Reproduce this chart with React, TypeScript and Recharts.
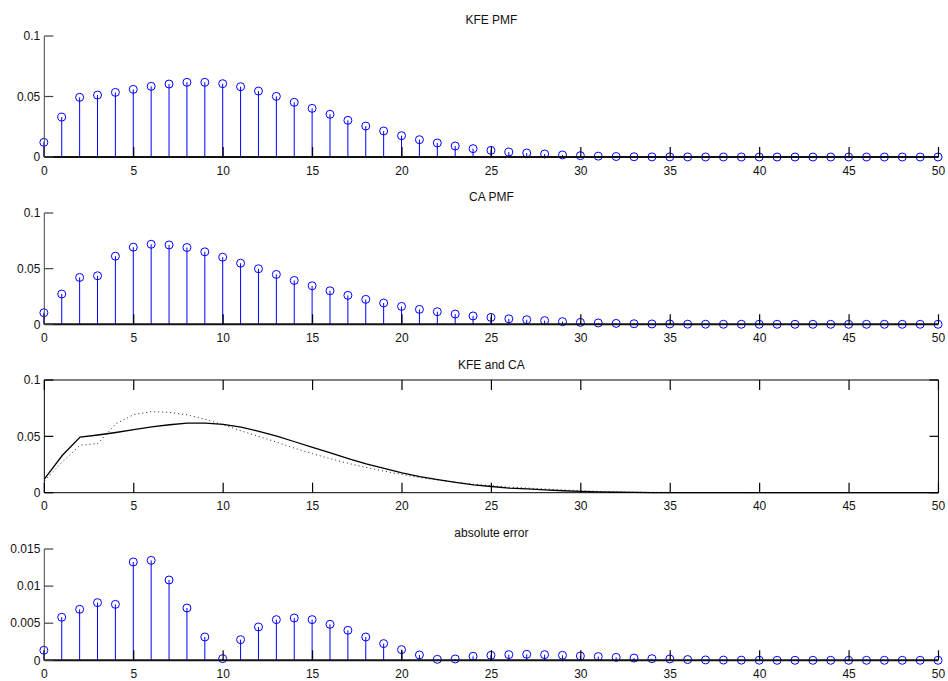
import React from 'react';
import { ComposedChart, Bar, Line, XAxis, YAxis } from 'recharts';

const xs = [0,1,2,3,4,5,6,7,8,9,10,11,12,13,14,15,16,17,18,19,20,21,22,23,24,25,26,27,28,29,30,31,32,33,34,35,36,37,38,39,40,41,42,43,44,45,46,47,48,49,50];

const kfe = [0.0121,0.0330,0.0493,0.0512,0.0534,0.0559,0.0584,0.0603,0.0617,0.0617,0.0606,0.0581,0.0545,0.0501,0.0452,0.0402,0.0353,0.0303,0.0256,0.0215,0.0176,0.0143,0.0116,0.0091,0.0069,0.0055,0.0041,0.0033,0.0025,0.0017,0.0011,0.0007,0.0004,0.0002,0.0001,0.0001,0.00005,0.00003,0.00002,0.00001,0,0,0,0,0,0,0,0,0,0,0];

const ca = [0.0104,0.0272,0.0421,0.0436,0.0612,0.0693,0.0719,0.0713,0.0690,0.0651,0.0603,0.0549,0.0499,0.0448,0.0394,0.0346,0.0301,0.0260,0.0224,0.0191,0.0161,0.0134,0.0113,0.0092,0.0075,0.0062,0.0049,0.0041,0.0033,0.0024,0.0017,0.0012,0.0008,0.0005,0.0003,0.0003,0.0001,0.00008,0.00005,0.00003,0.00002,0.00001,0,0,0,0,0,0,0,0,0];

const absErr = [0.00135,0.0058,0.00687,0.00777,0.00754,0.01325,0.01347,0.01082,0.00705,0.00314,0.00022,0.00278,0.00449,0.00548,0.0057,0.00548,0.00485,0.00404,0.00314,0.00225,0.00144,0.00072,0.00013,0.00018,0.00054,0.00067,0.00076,0.00081,0.00076,0.00067,0.00058,0.0005,0.0004,0.0003,0.00022,0.00018,0.0001,0.00005,0.00003,0.00002,0.00001,0,0,0,0,0,0,0,0,0,0];

const xTicks = [0,5,10,15,20,25,30,35,40,45,50];
const pmfTicks = [0,0.05,0.1];
const errTicks = [0,0.005,0.01,0.015];

const data = xs.map((x, i) => ({ x, kfe: kfe[i], ca: ca[i], err: absErr[i] }));

const FONT = '"Liberation Sans", Arial, Helvetica, sans-serif';
const W = 948;
const LEFT = 44.3;
const RIGHT = W - 938.5;
const MT = 30;
const XH = 25;
const BLUE = '#0000ff';
const TICKC = '#000';
const TICKW = 1.2;

const Stem = (props: any) => {
  const { x, y, width, height } = props;
  if (x == null || y == null) return null;
  const cx = x + (width || 0) / 2;
  return (
    <g>
      <line x1={cx} x2={cx} y1={y} y2={y + (height || 0)} stroke={BLUE} strokeWidth={1} />
      <circle cx={cx} cy={y} r={4} fill="none" stroke={BLUE} strokeWidth={1} />
    </g>
  );
};

const tickStyle = { fill: '#111', fontSize: 12, fontFamily: FONT };

const TopTick = (props: any) => {
  const { x, y } = props;
  if (x == null || y == null) return null;
  return <line x1={x} x2={x} y1={y} y2={y + 10} stroke={TICKC} strokeWidth={TICKW} />;
};

const RightTick = (props: any) => {
  const { x, y } = props;
  if (x == null || y == null) return null;
  return <line x1={x} x2={x - 9} y1={y} y2={y} stroke={TICKC} strokeWidth={TICKW} />;
};

function Title({ text, center }: { text: string; center: number }) {
  return (
    <div
      style={{
        position: 'absolute',
        left: LEFT,
        width: 938.5 - LEFT,
        top: center - 7,
        height: 14,
        lineHeight: '14px',
        textAlign: 'center',
        fontFamily: FONT,
        fontSize: 12,
        color: '#111',
      }}
    >
      {text}
    </div>
  );
}

function StemPanel({ dataKey, yTicks, domain, plotTop, plotBottom }: any) {
  const h = plotBottom - plotTop;
  return (
    <div style={{ position: 'absolute', left: 0, top: plotTop - MT }}>
      <ComposedChart width={W} height={h + MT + XH} data={data} margin={{ top: MT, right: RIGHT, bottom: 0, left: 0 }}>
        <XAxis
          type="number"
          dataKey="x"
          domain={[0, 50]}
          ticks={xTicks}
          interval={0}
          height={XH}
          tickSize={-10}
          tickMargin={19}
          axisLine={{ stroke: '#111', strokeWidth: 2 }}
          tickLine={{ stroke: TICKC, strokeWidth: TICKW }}
          tick={tickStyle}
        />
        <YAxis
          type="number"
          domain={domain}
          ticks={yTicks}
          interval={0}
          width={LEFT}
          tickSize={-9}
          tickMargin={13}
          axisLine={{ stroke: '#444' }}
          tickLine={{ stroke: '#444', strokeWidth: TICKW }}
          tick={tickStyle}
          tickFormatter={(v: number) => String(v)}
        />
        <Bar dataKey={dataKey} barSize={1} shape={<Stem />} isAnimationActive={false} />
      </ComposedChart>
    </div>
  );
}

function LinePanel({ plotTop, plotBottom }: any) {
  const h = plotBottom - plotTop;
  return (
    <div style={{ position: 'absolute', left: 0, top: plotTop - MT }}>
      <ComposedChart width={W} height={h + MT + XH} data={data} margin={{ top: MT - 1, right: RIGHT - 1, bottom: 0, left: 0 }}>
        <XAxis
          type="number"
          dataKey="x"
          domain={[0, 50]}
          ticks={xTicks}
          interval={0}
          height={XH}
          tickSize={-10}
          tickMargin={19}
          axisLine={{ stroke: '#000' }}
          tickLine={{ stroke: TICKC, strokeWidth: TICKW }}
          tick={tickStyle}
        />
        <XAxis
          xAxisId="top"
          orientation="top"
          type="number"
          dataKey="x"
          domain={[0, 50]}
          ticks={xTicks}
          interval={0}
          height={1}
          tickSize={0}
          tickMargin={0}
          axisLine={{ stroke: '#000' }}
          tickLine={false}
          tick={<TopTick />}
        />
        <YAxis
          type="number"
          domain={[0, 0.1]}
          ticks={pmfTicks}
          interval={0}
          width={LEFT}
          tickSize={-9}
          tickMargin={13}
          axisLine={{ stroke: '#000' }}
          tickLine={{ stroke: TICKC, strokeWidth: TICKW }}
          tick={tickStyle}
          tickFormatter={(v: number) => String(v)}
        />
        <YAxis
          yAxisId="right"
          orientation="right"
          type="number"
          domain={[0, 0.1]}
          ticks={pmfTicks}
          interval={0}
          width={1}
          tickSize={0}
          tickMargin={0}
          axisLine={{ stroke: '#000' }}
          tickLine={false}
          tick={<RightTick />}
        />
        <Line xAxisId="top" yAxisId="right" dataKey="kfe" type="linear" stroke="none" strokeWidth={0} dot={false} activeDot={false} legendType="none" isAnimationActive={false} />
        <Line dataKey="ca" type="linear" stroke="#222" strokeWidth={1} strokeDasharray="1 3" dot={false} isAnimationActive={false} />
        <Line dataKey="kfe" type="linear" stroke="#000" strokeWidth={1.3} dot={false} isAnimationActive={false} />
      </ComposedChart>
    </div>
  );
}

export default function App() {
  return (
    <div style={{ position: 'absolute', left: 0, top: 0, width: W, height: 681, background: '#fff', overflow: 'hidden' }}>
      <Title text="KFE PMF" center={20} />
      <StemPanel dataKey="kfe" yTicks={pmfTicks} domain={[0, 0.1]} plotTop={35.7} plotBottom={156.7} />
      <Title text="CA PMF" center={197} />
      <StemPanel dataKey="ca" yTicks={pmfTicks} domain={[0, 0.1]} plotTop={213} plotBottom={324.3} />
      <Title text="KFE and CA" center={365} />
      <LinePanel plotTop={380} plotBottom={492.7} />
      <Title text="absolute error" center={532.5} />
      <StemPanel dataKey="err" yTicks={errTicks} domain={[0, 0.015]} plotTop={549} plotBottom={660.3} />
    </div>
  );
}
